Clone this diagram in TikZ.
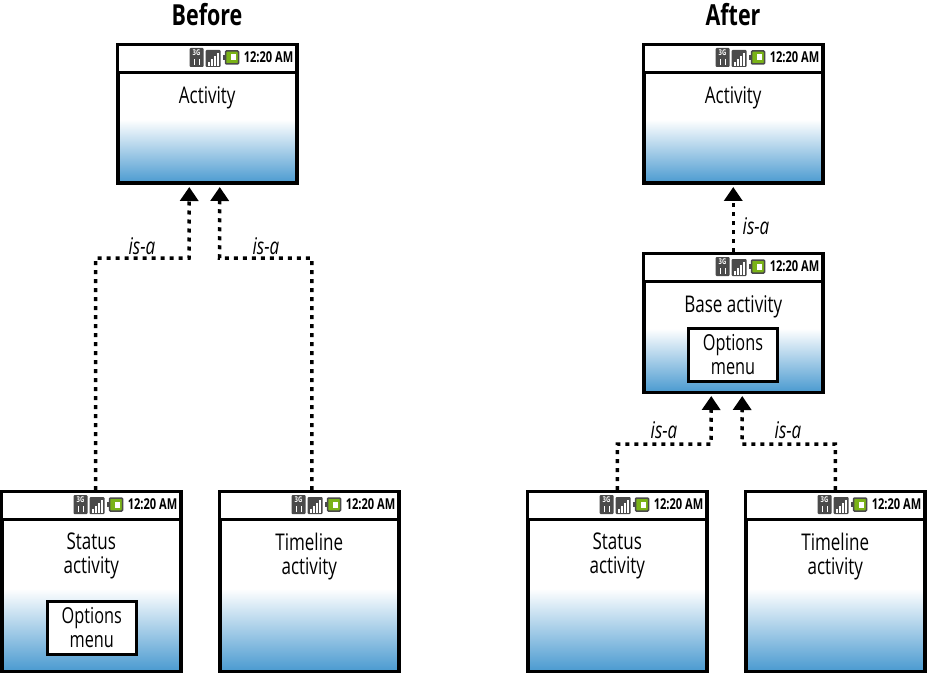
\documentclass[tikz,border=0pt]{standalone}
\usepackage{fontspec}
\setmainfont[FakeStretch=0.74]{Open Sans}
\usetikzlibrary{arrows.meta}
\definecolor{fadeblue}{HTML}{4A9AD0}
\definecolor{icongray}{HTML}{4A4A4A}
\definecolor{batgreen}{HTML}{7AB317}
\pgfdeclareverticalshading{screenfade}{100bp}{color(0bp)=(fadeblue); color(25bp)=(fadeblue); color(48bp)=(white); color(100bp)=(white)}
\tikzset{
	screen/.style={draw,line width=3.5pt,shading=screenfade,anchor=north west,minimum width=179pt,inner sep=0pt},
	statusbar/.style={draw,line width=3pt,fill=white,anchor=north,minimum width=179pt,minimum height=28pt,inner sep=0pt},
	caption/.style={anchor=north,align=center,font=\fontsize{23}{24}\selectfont,inner sep=0pt},
	optbox/.style={draw,line width=3pt,fill=white,align=center,minimum width=89pt,minimum height=53pt,inner sep=0pt,font=\fontsize{22}{24}\selectfont},
	isa/.style={line width=3.5pt,dash pattern=on 4pt off 5pt,-{Triangle[width=18pt,length=14pt]}},
	isalabel/.style={font=\itshape\fontsize{23}{24}\selectfont,inner sep=0pt},
	heading/.style={font=\bfseries\fontsize{29}{30}\selectfont,inner sep=0pt},
	icons/.pic={
		\fill[icongray,rounded corners=1pt] (-109,5) rectangle (-95,24);
		\node[text=white,inner sep=0pt,font=\bfseries\fontsize{8}{8}\selectfont] (-tg) at (-102,10) {3G};
		\draw[white,line width=1pt] (-104.5,22) -- (-104.5,16) (-99.5,22) -- (-99.5,16);
		\fill[icongray,rounded corners=1pt] (-93,7) rectangle (-78,24);
		\foreach \i/\t in {0/19,1/16,2/13,3/10}
			\fill[white] (-91+3.2*\i,23) rectangle (-89+3.2*\i,\t);
		\fill[batgreen,draw=icongray,line width=1.5pt,rounded corners=1pt] (-73,8) rectangle (-60,21);
		\fill[icongray] (-75.5,12) rectangle (-73,17);
		\fill[white] (-68,11.5) rectangle (-63,17.5);
		\node[anchor=east,inner sep=0pt,font=\bfseries\fontsize{15}{15}\selectfont] (-clock) at (-5,14.5) {12:20 AM};
	}
}
\begin{document}
\begin{tikzpicture}[x=1pt,y=-1pt]
	\useasboundingbox (0,0) rectangle (927,674);
	% screens
	\foreach \name/\px/\py/\ph/\txt in {
		actA/116/43/138.5/Activity,
		statusA/0/490/179.5/{Status\\activity},
		timeA/218/490/179.5/{Timeline\\activity},
		actB/642/43/138.5/Activity,
		baseB/642/252/138.5/Base activity,
		statusB/526/490/179.5/{Status\\activity},
		timeB/744/490/179.5/{Timeline\\activity}}{
		\node[screen,minimum height=\ph pt] (\name) at (\px,\py) {};
		\node[statusbar] (\name bar) at (\name.north) {};
		\pic (\name ic) at (\name.north east) {icons};
		\node[caption] (\name txt) at ([yshift=-43pt]\name.north) {\txt};
	}
	% menus
	\node[optbox] (menuA) at (91.8,628) {Options\\menu};
	\node[optbox] (menuB) at (733,355) {Options\\menu};
	% titles
	\node[heading] (before) at (207,15) {Before};
	\node[heading] (after) at (733,15) {After};
	% connectors
	\coordinate (inA) at ([xshift=-18pt,yshift=-2pt]actA.south);
	\coordinate (inB) at ([xshift=12.5pt,yshift=-2pt]actA.south);
	\coordinate (inC) at ([xshift=-22pt,yshift=-2pt]baseB.south);
	\coordinate (inD) at ([xshift=9pt,yshift=-2pt]baseB.south);
	\coordinate (jA) at (189,258);
	\coordinate (jB) at (219.5,258);
	\coordinate (jC) at (711,444);
	\coordinate (jD) at (742,444);
	\draw[isa] ([xshift=4.25pt]statusA.north) |- (jA) -- (inA);
	\draw[isa] ([xshift=2.5pt]timeA.north) |- (jB) -- (inB);
	\draw[isa] (baseB.north) -- ([yshift=-2pt]actB.south);
	\draw[isa] (statusB.north) |- (jC) -- (inC);
	\draw[isa] (timeB.north) |- (jD) -- (inD);
	% labels
	\node[isalabel] (la) at (142,246) {is-a};
	\node[isalabel] (lb) at (266,246) {is-a};
	\node[isalabel] (lc) at (756,226) {is-a};
	\node[isalabel] (ld) at (664,430) {is-a};
	\node[isalabel] (le) at (788,430) {is-a};
\end{tikzpicture}
\end{document}
